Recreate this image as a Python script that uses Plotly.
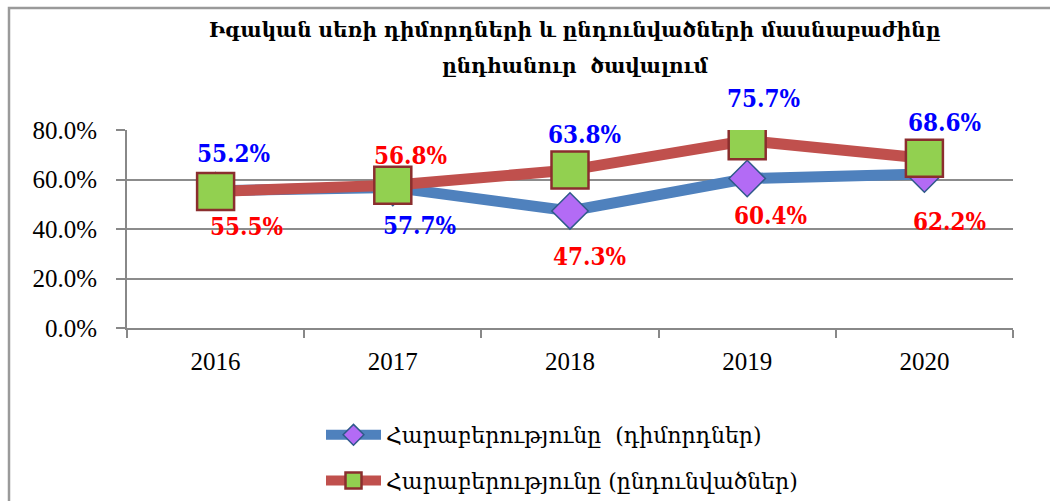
import plotly.graph_objects as go

years = ["2016", "2017", "2018", "2019", "2020"]
applicants = [0.555, 0.568, 0.473, 0.604, 0.622]   # Հարաբերությունը (դիմորդներ)
admitted = [0.552, 0.577, 0.638, 0.757, 0.686]     # Հարաբերությունը (ընդունվածներ)
y_ticks = [0, 0.2, 0.4, 0.6, 0.8]
name_app = "Հարաբերությունը  (դիմորդներ)"
name_adm = "Հարաբերությունը (ընդունվածներ)"
title_l1 = "Իգական սեռի դիմորդների և ընդունվածների մասնաբաժինը"
title_l2 = "ընդհանուր  ծավալում"

# label pixel offsets (style)
off_app = [(31, -36), (18, 32), (19, -46), (23, -37), (25, -47)]
off_adm = [(18, 38), (27, -40), (14, 36), (16, 42), (20, 36)]

W, H = 1050, 501
L, R, T, B = 127, 37, 130, 173
pw, ph = W - L - R, H - T - B

def px(xp):
    return (xp - L) / pw

def py(yp):
    return (H - B - yp) / ph

fig = go.Figure()
fig.add_trace(go.Scatter(
    x=years, y=applicants, name=name_app, mode="lines+markers",
    line=dict(color="#4F81BD", width=11),
    marker=dict(symbol="diamond", size=28, color="#B36BF5",
                line=dict(color="#2F5A8A", width=1.5)),
    legendgroup="a",
))
fig.add_trace(go.Scatter(
    x=years, y=admitted, name=name_adm, mode="lines+markers",
    line=dict(color="#C0504D", width=11),
    marker=dict(symbol="square", size=37, color="#92D050",
                line=dict(color="#8B2E2E", width=2.5)),
    legendgroup="b",
))

lab_font = "DejaVu Serif Condensed, Liberation Serif, serif"
for i, (v, (dx, dy)) in enumerate(zip(applicants, off_app)):
    fig.add_annotation(x=i, y=v, xref="x", yref="y", text=f"{v*100:.1f}%",
                       showarrow=False, xshift=dx, yshift=dy,
                       font=dict(family=lab_font, size=24, color="#FF0000", weight="bold"))
for i, (v, (dx, dy)) in enumerate(zip(admitted, off_adm)):
    fig.add_annotation(x=i, y=v, xref="x", yref="y", text=f"{v*100:.1f}%",
                       showarrow=False, xshift=dx, yshift=dy,
                       font=dict(family=lab_font, size=24, color="#0000FF", weight="bold"))

title_font = dict(family="DejaVu Serif, serif", size=20, color="#000000", weight="bold")
fig.add_annotation(x=px(575), y=py(30), xref="paper", yref="paper", text=title_l1,
                   showarrow=False, font=title_font, xanchor="center", yanchor="middle")
fig.add_annotation(x=px(575), y=py(66), xref="paper", yref="paper", text=title_l2,
                   showarrow=False, font=title_font, xanchor="center", yanchor="middle")

# outer frame
fig.add_shape(type="rect", xref="paper", yref="paper",
              x0=px(9), x1=px(1065), y0=py(515), y1=py(8),
              line=dict(color="#9A9A9A", width=2.5), layer="below")

fig.update_layout(
    width=W, height=H,
    margin=dict(l=L, r=R, t=T, b=B, autoexpand=False),
    paper_bgcolor="white", plot_bgcolor="white",
    showlegend=True,
    legend=dict(x=px(321), xanchor="left", y=py(502), yanchor="bottom",
                font=dict(family="DejaVu Serif, serif", size=22, color="#000000"),
                tracegroupgap=14, itemwidth=55, bgcolor="rgba(0,0,0,0)"),
)
fig.update_xaxes(
    type="category", categoryorder="array", categoryarray=years, range=[-0.5, 4.5],
    showgrid=False, showline=True, linecolor="#888888", linewidth=2,
    ticks="outside", tickson="boundaries", ticklen=8, tickcolor="#888888", tickwidth=2,
    tickfont=dict(family="Liberation Serif, serif", size=25, color="#000000"),
    ticklabelstandoff=10, tickangle=0,
)
fig.update_yaxes(
    range=[0, 0.8], tickvals=y_ticks, tickformat=".1%",
    showgrid=True, gridcolor="#8C8C8C", gridwidth=1.5,
    showline=True, linecolor="#888888", linewidth=2,
    ticks="outside", ticklen=9, tickcolor="#888888", tickwidth=2,
    tickfont=dict(family="Liberation Serif, serif", size=25, color="#000000"),
    ticklabelstandoff=14, zeroline=False,
)

fig.write_html("out.html", config={"displayModeBar": False},
               post_script="document.body.style.margin='0px';")
